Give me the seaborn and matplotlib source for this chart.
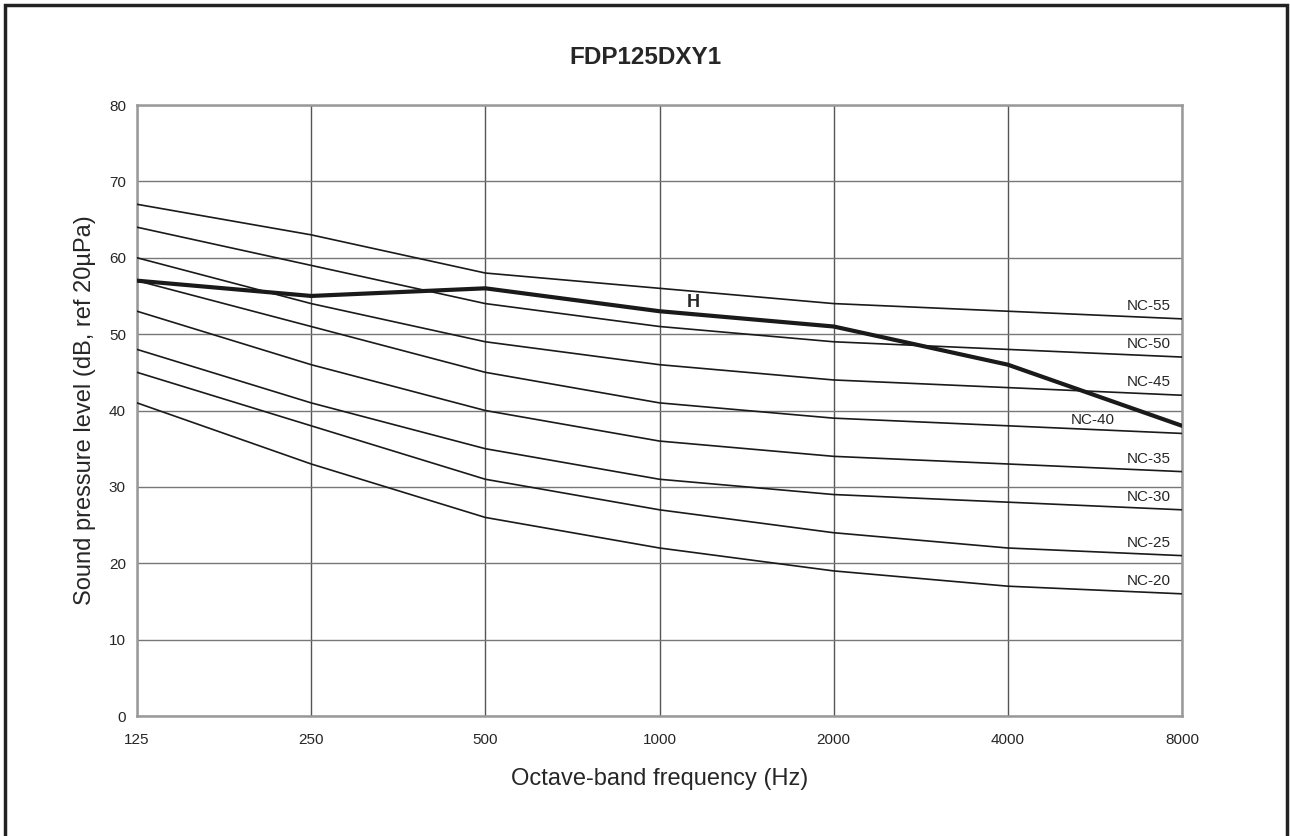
#!/usr/bin/env python3
"""NC curve chart for FDP125DXY1."""

import matplotlib
matplotlib.use("Agg")
import matplotlib.pyplot as plt
import pandas as pd
import seaborn as sns
from matplotlib.patches import Rectangle

FREQS = [125, 250, 500, 1000, 2000, 4000, 8000]
NC_NAMES = ["NC-55", "NC-50", "NC-45", "NC-40", "NC-35", "NC-30", "NC-25", "NC-20"]
NC_55 = [67, 63, 58, 56, 54, 53, 52]
NC_50 = [64, 59, 54, 51, 49, 48, 47]
NC_45 = [60, 54, 49, 46, 44, 43, 42]
NC_40 = [57, 51, 45, 41, 39, 38, 37]
NC_35 = [53, 46, 40, 36, 34, 33, 32]
NC_30 = [48, 41, 35, 31, 29, 28, 27]
NC_25 = [45, 38, 31, 27, 24, 22, 21]
NC_20 = [41, 33, 26, 22, 19, 17, 16]
H_LEVEL = [57, 55, 56, 53, 51, 46, 38]

sns.set_style("white")
plt.rcParams["font.family"] = ["Liberation Sans", "DejaVu Sans"]

curves = [NC_55, NC_50, NC_45, NC_40, NC_35, NC_30, NC_25, NC_20]
frame = pd.DataFrame(
    [(name, f, v) for name, vals in zip(NC_NAMES, curves) for f, v in zip(FREQS, vals)],
    columns=["curve", "freq", "level"],
)
h_frame = pd.DataFrame({"freq": FREQS, "level": H_LEVEL})

fig = plt.figure(figsize=(12.9, 8.36), dpi=100)
ax = fig.add_axes([0.1062, 0.1435, 0.8101, 0.7309])

# outer frame
fig.patches.append(Rectangle((0.004, -0.01), 0.994, 1.004, transform=fig.transFigure,
                             fill=False, edgecolor="#222222", linewidth=2.5))

sns.lineplot(data=frame, x="freq", y="level", units="curve", estimator=None,
             color="#1a1a1a", linewidth=1.2, ax=ax, zorder=3)
sns.lineplot(data=h_frame, x="freq", y="level", color="#1a1a1a", linewidth=3.0,
             ax=ax, zorder=4)

ax.set_xscale("log", base=2)
ax.set_xlim(FREQS[0], FREQS[-1])
ax.set_ylim(0, 80)
ax.set_xticks(FREQS)
ax.set_xticklabels([str(f) for f in FREQS])
ax.minorticks_off()
ax.set_yticks(range(0, 81, 10))

ax.grid(True, axis="x", color="#555555", linewidth=1.0)
ax.grid(True, axis="y", color="#777777", linewidth=1.0)
for side in ax.spines.values():
    side.set_color("#999999")
    side.set_linewidth(1.8)

ax.tick_params(axis="y", direction="out", length=5, color="#666666", labelsize=11, pad=3)
ax.tick_params(axis="x", direction="out", length=3, color="#666666", labelsize=11, pad=9)

ax.set_xlabel("Octave-band frequency (Hz)", fontsize=17, labelpad=15)
ax.set_ylabel("Sound pressure level (dB, ref 20µPa)", fontsize=17, labelpad=9)
fig.text(0.5, 0.931, "FDP125DXY1", ha="center", va="center", fontsize=17.5, fontweight="bold")

for name, vals in zip(NC_NAMES, curves):
    if name == "NC-40":
        ax.text(4000 * 1.40, vals[-1] + 1.7, name, ha="center", va="center", fontsize=11)
    else:
        ax.text(8000 * 0.955, vals[-1] + 1.7, name, ha="right", va="center", fontsize=11)

ax.text(1000 * 1.145, H_LEVEL[3] + 1.1, "H", ha="center", va="center", fontsize=13, fontweight="bold")

fig.savefig("out.png", dpi=100)
